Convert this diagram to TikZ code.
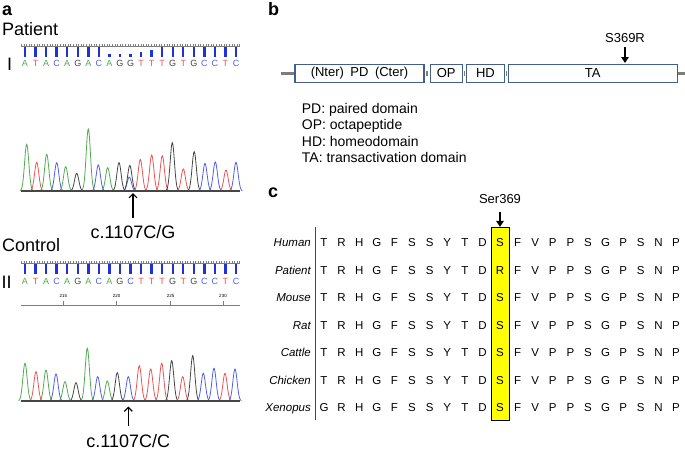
\documentclass[tikz,border=0pt]{standalone}
\usepackage{fontspec}
\setmainfont{Liberation Sans}
\usepackage{tikz}
\usetikzlibrary{arrows.meta}

\definecolor{baseA}{RGB}{80,170,80}
\definecolor{baseT}{RGB}{235,85,85}
\definecolor{baseC}{RGB}{80,95,230}
\definecolor{baseG}{RGB}{70,70,70}
\definecolor{barblue}{RGB}{30,50,220}
\definecolor{boxblue}{RGB}{65,95,135}
\definecolor{spine}{RGB}{125,125,125}
\definecolor{seryellow}{RGB}{255,255,0}

\tikzset{
  panel/.style={font=\fontsize{18}{20}\selectfont\bfseries, anchor=base west, inner sep=0pt},
  bigtxt/.style={font=\fontsize{18}{20}\selectfont, inner sep=0pt},
  seqtxt/.style={font=\fontsize{9}{10}\selectfont, anchor=base, inner sep=0pt},
  rulertxt/.style={font=\fontsize{4.5}{5}\selectfont, inner sep=0pt},
  legtxt/.style={font=\fontsize{14}{16}\selectfont, anchor=base west, inner sep=0pt},
  restxt/.style={font=\fontsize{11.5}{13}\selectfont, anchor=base, inner sep=0pt},
  species/.style={font=\fontsize{11.5}{13}\selectfont\itshape, anchor=base east, inner sep=0pt},
  dombox/.style={draw=boxblue, line width=1.1pt, fill=white, minimum height=18pt, inner sep=0pt,
    font=\fontsize{13}{15}\selectfont},
  peak/.style={line width=0.8pt},
  bar/.style={barblue, line width=2.4pt},
  mutarrow/.style={-{Straight Barb[length=4pt,width=8pt]}, line width=1.2pt},
  bigarrow/.style={-{Triangle[length=6pt,width=7.5pt]}, line width=2pt}
}

\begin{document}
\begin{tikzpicture}[x=1pt,y=-1pt]
  \useasboundingbox (0,0) rectangle (685,455);

  % a: patient trace
  \node[panel] (la) at (2,15) {a};
  \node[bigtxt, anchor=base west] (pat) at (2,35) {Patient};
  \node[bigtxt, anchor=base west] (rom1) at (7,70) {I};
  \draw[spine, line width=0.5pt] (21,46) -- (240,46);
  \draw[spine, line width=1.6pt, dash pattern=on 0.6pt off 2pt] (21,45) -- (240,45);
  \foreach \h [count=\i from 0] in {10,10,10,10,10,10,10,10,3,3,3,4.5,6.5,10,10,10,10,10,10,10,10}
    \draw[bar] ({25+10.55*\i},56.5) -- ++(0,-\h);
  \foreach \b [count=\i from 0] in {A,T,A,C,A,G,A,C,A,G,G,T,T,T,G,T,G,C,C,T,C}
    \node[seqtxt, text=base\b] (pb\i) at ({25+10.55*\i},66.5) {\b};

  \foreach \px/\ph/\pc [evaluate=\px as \pa using \px-6.5, evaluate=\px as \pz using \px+6.5] in
    {26.7/46.7/baseA, 36.7/28.7/baseT, 46.7/36.7/baseA, 56.7/28.3/baseC, 65.7/24.3/baseA,
     76.7/17.7/baseG, 88.3/62/baseA, 98.3/26/baseC, 107.7/23.3/baseA, 119/28.3/baseG,
     129.3/14/baseC, 129.8/25.5/baseG, 140.3/31.5/baseT, 151.7/36/baseT, 162.3/35.3/baseT,
     172.3/48.3/baseG, 183.3/22/baseT, 194.2/39.3/baseG, 205/27.5/baseC, 215.3/29/baseC,
     226/21/baseT, 236/28.7/baseC}
    \draw[peak, \pc] plot[domain=\pa:\pz, samples=31] (\x, {191-\ph*exp(-((\x-\px)*(\x-\px))/9)});
  \draw[baseG, line width=1.1pt] (21,191) -- (240,191);

  \node[bigtxt, anchor=base] (mutP) at (133,238) {c.1107C/G};
  \coordinate (tipP) at (133,193);
  \draw[mutarrow, shorten <=7pt] (mutP) -- (tipP);

  % a: control trace
  \node[bigtxt, anchor=base west] (ctl) at (2,251.5) {Control};
  \node[bigtxt, anchor=base west] (rom2) at (1.5,288) {II};
  \draw[spine, line width=0.5pt] (21,263) -- (240,263);
  \draw[spine, line width=1.6pt, dash pattern=on 0.6pt off 2pt] (21,262) -- (240,262);
  \foreach \i in {0,...,20}
    \draw[bar] ({25+10.55*\i},273.5) -- ++(0,-9.5);
  \foreach \b [count=\i from 0] in {A,T,A,C,A,G,A,C,A,G,C,T,T,T,G,T,G,C,C,T,C}
    \node[seqtxt, text=base\b] (cb\i) at ({25+10.55*\i},284) {\b};

  \draw[spine, line width=0.6pt] (21,305.5) -- (240,305.5);
  \foreach \tx/\tl in {63.3/215, 116.7/220, 170.7/225, 223/230} {
    \draw[spine, line width=0.6pt] (\tx,300.5) -- (\tx,305.5);
    \node[rulertxt] (rt\tl) at (\tx,296) {\tl};
  }

  \foreach \px/\ph/\pc [evaluate=\px as \pa using \px-6.5, evaluate=\px as \pz using \px+6.5] in
    {25/37.7/baseA, 36/29.3/baseT, 46/31/baseA, 56/27/baseC, 65/19.3/baseA,
     76/18.3/baseG, 87.3/52.7/baseA, 97.7/24.3/baseC, 107.3/20/baseA, 117.3/28.3/baseG,
     128.3/24.3/baseC, 139.3/35.3/baseT, 150.7/32/baseT, 161.7/37.7/baseT, 171.7/40.3/baseG,
     182.7/24.3/baseT, 192.7/45.3/baseG, 203.3/27.7/baseC, 214/32.7/baseC, 225/27.7/baseT,
     235/32/baseC}
    \draw[peak, \pc] plot[domain=\pa:\pz, samples=31] (\x, {401-\ph*exp(-((\x-\px)*(\x-\px))/9)});
  \draw[baseG, line width=1.1pt] (21,401) -- (240,401);

  \node[bigtxt, anchor=base] (mutC) at (128.3,447.5) {c.1107C/C};
  \coordinate (tipC) at (128.3,406.5);
  \draw[mutarrow, shorten <=8pt] (mutC) -- (tipC);

  % b: domains
  \node[panel] (lb) at (268,15) {b};
  \coordinate (nEnd) at (281,73.3);
  \coordinate (cEnd) at (685,73.3);
  \node[dombox, minimum width=129pt] (pd) at (359.5,73.3) {(Nter)\hspace{0.5em}PD\hspace{0.5em}(Cter)};
  \node[dombox, minimum width=32.3pt] (op) at (446.2,73.3) {OP};
  \node[dombox, minimum width=37.3pt] (hd) at (485.4,73.3) {HD};
  \node[dombox, minimum width=169pt] (ta) at (592.8,73.3) {TA};
  \draw[spine, line width=2.7pt] (nEnd) -- (pd.west);
  \draw[spine, line width=2.7pt] (ta.east) -- (cEnd);
  \draw[spine, line width=1.2pt, {Bar[width=5pt]}-{Bar[width=5pt]}, shorten <=1.5pt, shorten >=1.5pt] (pd.east) -- (op.west);
  \draw[spine, line width=1.2pt, {Bar[width=5pt]}-{Bar[width=5pt]}, shorten <=1pt, shorten >=1pt] (op.east) -- (hd.west);
  \draw[spine, line width=1.2pt, {Bar[width=5pt]}-{Bar[width=5pt]}, shorten <=1pt, shorten >=1pt] (hd.east) -- (ta.west);

  \node[font=\fontsize{13}{15}\selectfont, anchor=base, inner sep=0pt] (mutB) at (625,42) {S369R};
  \coordinate (tipB) at (625,63);
  \draw[bigarrow, shorten <=5pt] (mutB) -- (tipB);

  \node[legtxt] (leg1) at (301.7,113) {PD: paired domain};
  \node[legtxt] (leg2) at (301.7,129.5) {OP: octapeptide};
  \node[legtxt] (leg3) at (301.7,146) {HD: homeodomain};
  \node[legtxt] (leg4) at (301.7,162.5) {TA: transactivation domain};

  % c: alignment
  \node[panel] (lc) at (268,197) {c};
  \node[draw, line width=0.8pt, fill=seryellow, minimum width=18pt, minimum height=192.7pt, inner sep=0pt] (ser) at (500,323.65) {};
  \draw[line width=0.8pt, baseG] (315,0 |- ser.north) -- (315,0 |- ser.south);
  \node[font=\fontsize{13}{15}\selectfont, anchor=base, inner sep=0pt] (serlbl) at (500,203) {Ser369};
  \draw[bigarrow, shorten <=9pt] (serlbl) -- (ser.north);

  \foreach \sp/\seq [count=\j from 0] in
    {Human/{T,R,H,G,F,S,S,Y,T,D,S,F,V,P,P,S,G,P,S,N,P},
     Patient/{T,R,H,G,F,S,S,Y,T,D,R,F,V,P,P,S,G,P,S,N,P},
     Mouse/{T,R,H,G,F,S,S,Y,T,D,S,F,V,P,P,S,G,P,S,N,P},
     Rat/{T,R,H,G,F,S,S,Y,T,D,S,F,V,P,P,S,G,P,S,N,P},
     Cattle/{T,R,H,G,F,S,S,Y,T,D,S,F,V,P,P,S,G,P,S,N,P},
     Chicken/{T,R,H,G,F,S,S,Y,T,D,S,F,V,P,P,S,G,P,S,N,P},
     Xenopus/{G,R,H,G,F,S,S,Y,T,D,S,F,V,P,P,S,G,P,S,N,P}} {
    \node[species] (sp\j) at (311,{246.5+27.5*\j}) {\sp};
    \foreach \r [count=\i from 0] in \seq
      \node[restxt] (r\j-\i) at ({324+17.6*\i},{246.5+27.5*\j}) {\r};
  }
\end{tikzpicture}
\end{document}
